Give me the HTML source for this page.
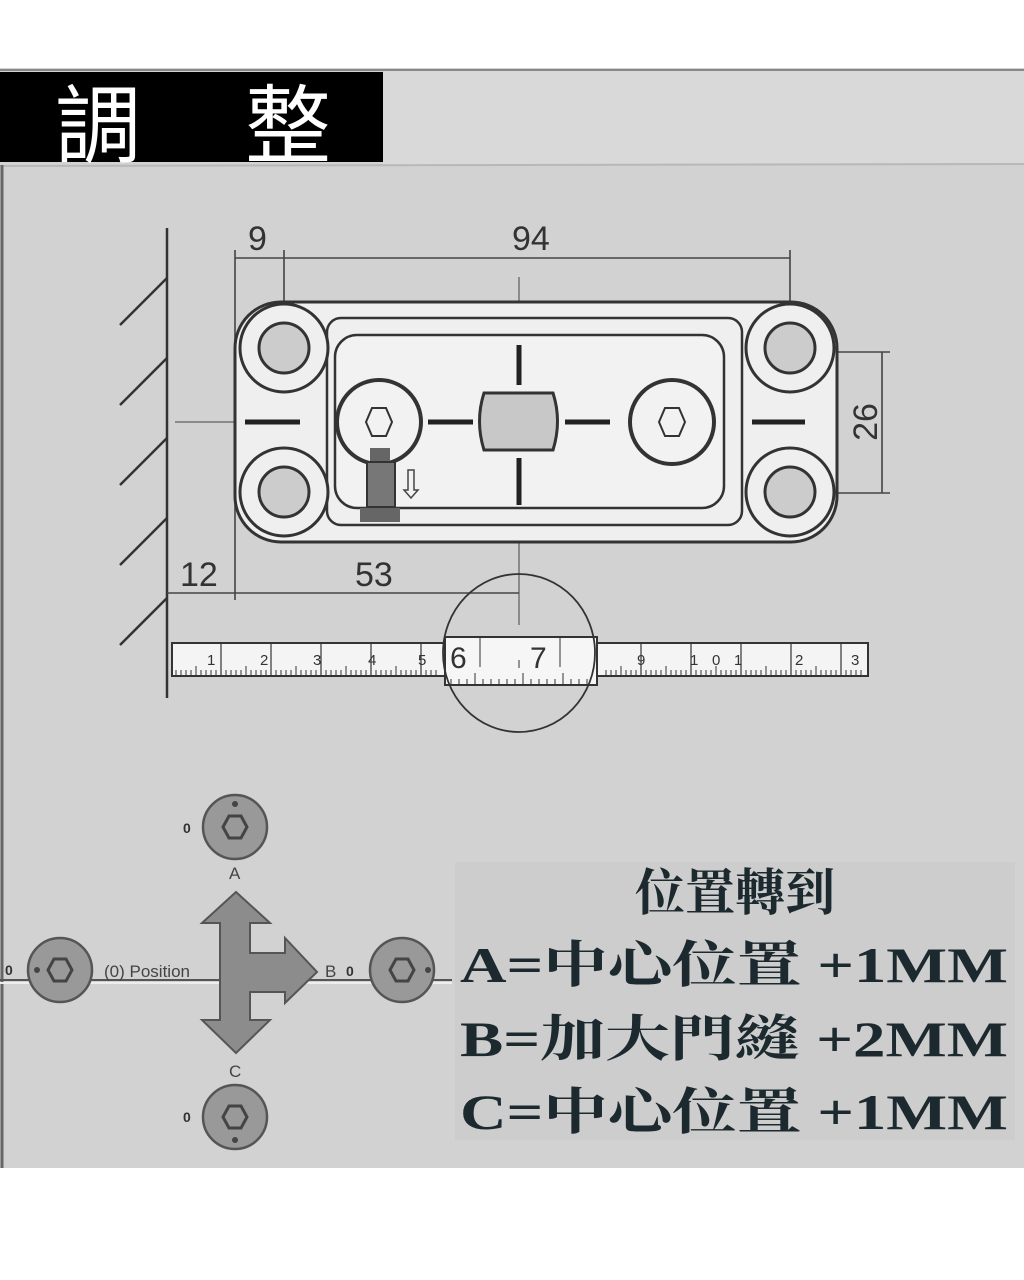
<!DOCTYPE html>
<html><head><meta charset="utf-8"><style>
html,body{margin:0;padding:0;background:#fff;}
svg{display:block;}
</style></head><body>
<svg width="1024" height="1280" viewBox="0 0 1024 1280" xmlns="http://www.w3.org/2000/svg" font-family="'Liberation Sans','Noto Sans CJK TC',sans-serif">
<rect x="0" y="0" width="1024" height="1280" fill="#fff"/>
<rect x="0" y="68" width="1024" height="1100" fill="#d2d2d2"/>
<rect x="383" y="70" width="641" height="95" fill="#d9d9d9"/>
<line x1="0" y1="166" x2="1024" y2="164" stroke="#b8b8b8" stroke-width="2"/>
<line x1="0" y1="70" x2="1024" y2="70" stroke="#888" stroke-width="2"/>
<line x1="2" y1="165" x2="2" y2="1168" stroke="#666" stroke-width="3"/>
<rect x="0" y="72" width="383" height="90" fill="#000"/>
<text x="55" y="156" font-size="86" fill="#fff">調</text>
<text x="245" y="156" font-size="86" fill="#fff">整</text>

<!-- wall -->
<g stroke="#333" stroke-width="2.5" fill="none">
<line x1="167" y1="228" x2="167" y2="698"/>
<line x1="120" y1="325" x2="167" y2="278"/>
<line x1="120" y1="405" x2="167" y2="358"/>
<line x1="120" y1="485" x2="167" y2="438"/>
<line x1="120" y1="565" x2="167" y2="518"/>
<line x1="120" y1="645" x2="167" y2="598"/>
</g>
<!-- dims -->
<g stroke="#444" stroke-width="1.6" fill="none">
<line x1="235" y1="250" x2="235" y2="600"/>
<line x1="284" y1="250" x2="284" y2="345"/>
<line x1="790" y1="250" x2="790" y2="345"/>
<line x1="235" y1="258" x2="790" y2="258"/>
<line x1="800" y1="352" x2="890" y2="352"/>
<line x1="800" y1="493" x2="890" y2="493"/>
<line x1="882" y1="352" x2="882" y2="493"/>
<line x1="167" y1="593" x2="519" y2="593"/>
<line x1="175" y1="422" x2="835" y2="422" stroke-width="1"/>
<line x1="519" y1="277" x2="519" y2="625" stroke-width="1"/>
</g>
<g font-size="34" fill="#333">
<text x="248" y="250">9</text>
<text x="512" y="250">94</text>
<text x="180" y="586">12</text>
<text x="355" y="586">53</text>
<text x="877" y="422" transform="rotate(-90 877 422)" text-anchor="middle">26</text>
</g>
<!-- plate -->
<rect x="235" y="302" width="602" height="240" rx="46" fill="#efefef" stroke="#333" stroke-width="3"/>
<rect x="327" y="318" width="415" height="207" rx="14" fill="none" stroke="#333" stroke-width="2.5"/>
<rect x="335" y="335" width="389" height="173" rx="22" fill="#f2f2f2" stroke="#333" stroke-width="2.5"/>
<g fill="#efefef" stroke="#333" stroke-width="3">
<circle cx="284" cy="348" r="44"/><circle cx="284" cy="492" r="44"/>
<circle cx="790" cy="348" r="44"/><circle cx="790" cy="492" r="44"/>
</g>
<g fill="#ccc" stroke="#333" stroke-width="3">
<circle cx="284" cy="348" r="25"/><circle cx="284" cy="492" r="25"/>
<circle cx="790" cy="348" r="25"/><circle cx="790" cy="492" r="25"/>
</g>
<g fill="none" stroke="#333" stroke-width="4">
<circle cx="379" cy="422" r="42"/><circle cx="672" cy="422" r="42"/>
</g>
<path d="M484 393 H553 Q562 421 553 450 H484 Q475 421 484 393Z" fill="#c8c8c8" stroke="#333" stroke-width="3"/>
<g stroke="#222" stroke-width="5">
<line x1="245" y1="422" x2="300" y2="422"/><line x1="428" y1="422" x2="473" y2="422"/>
<line x1="565" y1="422" x2="610" y2="422"/><line x1="752" y1="422" x2="805" y2="422"/>
<line x1="519" y1="345" x2="519" y2="385"/><line x1="519" y1="458" x2="519" y2="505"/>
</g>
<polygon points="372,408 386,408 392,422 386,436 372,436 366,422" fill="none" stroke="#333" stroke-width="2"/>
<polygon points="665,408 679,408 685,422 679,436 665,436 659,422" fill="none" stroke="#333" stroke-width="2"/>
<rect x="370" y="448" width="20" height="14" fill="#666"/>
<rect x="367" y="462" width="28" height="45" fill="#777" stroke="#333" stroke-width="2"/>
<rect x="360" y="508" width="40" height="14" fill="#666"/>
<path d="M408 470 h6 v20 h4 l-7 8 -7 -8 h4z" fill="none" stroke="#444" stroke-width="1.5"/>
<!-- ruler -->
<rect x="172" y="643" width="696" height="33" fill="#f4f4f4" stroke="#333" stroke-width="2"/>
<g stroke="#333" stroke-width="1">
<path d="M176 676v-6M181 676v-6M186 676v-6M191 676v-6M196 676v-10M201 676v-6M206 676v-6M211 676v-6M216 676v-6M226 676v-6M231 676v-6M236 676v-6M241 676v-6M246 676v-10M251 676v-6M256 676v-6M261 676v-6M266 676v-6M276 676v-6M281 676v-6M286 676v-6M291 676v-6M296 676v-10M301 676v-6M306 676v-6M311 676v-6M316 676v-6M326 676v-6M331 676v-6M336 676v-6M341 676v-6M346 676v-10M351 676v-6M356 676v-6M361 676v-6M366 676v-6M376 676v-6M381 676v-6M386 676v-6M391 676v-6M396 676v-10M401 676v-6M406 676v-6M411 676v-6M416 676v-6M426 676v-6M431 676v-6M436 676v-6M606 676v-6M611 676v-6M616 676v-6M621 676v-10M626 676v-6M631 676v-6M636 676v-6M646 676v-6M651 676v-6M656 676v-6M661 676v-6M666 676v-10M671 676v-6M676 676v-6M681 676v-6M686 676v-6M696 676v-6M701 676v-6M706 676v-6M711 676v-6M716 676v-10M721 676v-6M726 676v-6M731 676v-6M736 676v-6M746 676v-6M751 676v-6M756 676v-6M761 676v-6M766 676v-10M771 676v-6M776 676v-6M781 676v-6M786 676v-6M796 676v-6M801 676v-6M806 676v-6M811 676v-6M816 676v-10M821 676v-6M826 676v-6M831 676v-6M836 676v-6M846 676v-6M851 676v-6M856 676v-6M861 676v-6"/>
<path d="M221 643v33M271 643v33M321 643v33M371 643v33M421 643v33M641 643v33M691 643v33M741 643v33M791 643v33M841 643v33" stroke-width="1.2"/>
</g>
<g font-size="15" fill="#333">
<text x="207" y="665">1</text><text x="260" y="665">2</text><text x="313" y="665">3</text><text x="368" y="665">4</text><text x="418" y="665">5</text>
<text x="637" y="665">9</text><text x="690" y="665">1</text><text x="712" y="665">0</text><text x="734" y="665">1</text><text x="795" y="665">2</text><text x="851" y="665">3</text>
</g>
<rect x="445" y="637" width="152" height="48" fill="#f6f6f6" stroke="#333" stroke-width="2"/>
<g stroke="#333" stroke-width="1">
<path d="M451 685v-6M459 685v-6M467 685v-6M475 685v-12M483 685v-6M491 685v-6M499 685v-6M507 685v-6M515 685v-6M523 685v-12M531 685v-6M539 685v-6M547 685v-6M555 685v-6M563 685v-12M571 685v-6M579 685v-6M587 685v-6M519 660v8"/>
<path d="M480 637v30M560 637v30"/>
</g>
<g font-size="30" fill="#333"><text x="450" y="668">6</text><text x="530" y="668">7</text></g>
<ellipse cx="519" cy="653" rx="76" ry="79" fill="none" stroke="#333" stroke-width="1.8"/>

<!-- bottom adjustment -->
<line x1="0" y1="980" x2="452" y2="980" stroke="#555" stroke-width="2"/>
<line x1="0" y1="983" x2="452" y2="983" stroke="#eee" stroke-width="2"/>
<g fill="#999" stroke="#555" stroke-width="2.5">
<circle cx="235" cy="827" r="32"/><circle cx="235" cy="1117" r="32"/>
<circle cx="60" cy="970" r="32"/><circle cx="402" cy="970" r="32"/>
</g>
<g fill="none" stroke="#444" stroke-width="3">
<polygon points="229,816 241,816 247,827 241,838 229,838 223,827"/>
<polygon points="229,1106 241,1106 247,1117 241,1128 229,1128 223,1117"/>
<polygon points="54,959 66,959 72,970 66,981 54,981 48,970"/>
<polygon points="396,959 408,959 414,970 408,981 396,981 390,970"/>
</g>
<g fill="#444"><circle cx="235" cy="804" r="3"/><circle cx="235" cy="1140" r="3"/><circle cx="37" cy="970" r="3"/><circle cx="428" cy="970" r="3"/></g>
<g font-size="14" font-weight="bold" fill="#333">
<text x="183" y="833">0</text><text x="183" y="1122">0</text><text x="5" y="975">0</text><text x="346" y="976">0</text>
</g>
<g font-size="17" fill="#444">
<text x="229" y="879">A</text><text x="229" y="1077">C</text><text x="325" y="977">B</text>
<text x="104" y="977">(0)  Position</text>
</g>
<path d="M236 892 L270 923 H250 V953 H285 V938 L317 972 L285 1003 V992 H250 V1020 H270 L236 1053 L202 1020 H220 V923 H202 Z" fill="#8c8c8c" stroke="#555" stroke-width="2"/>

<!-- text block -->
<rect x="455" y="862" width="560" height="278" fill="#cdcdcd"/>
<g font-family="'Liberation Serif','Noto Serif CJK TC',serif" font-weight="bold" fill="#1c2a30" font-size="50">
<text x="735" y="910" text-anchor="middle">位置轉到</text>
<text x="460" y="982" textLength="548" lengthAdjust="spacingAndGlyphs">A=中心位置 +1MM</text>
<text x="460" y="1056" textLength="548" lengthAdjust="spacingAndGlyphs">B=加大門縫 +2MM</text>
<text x="460" y="1129" textLength="548" lengthAdjust="spacingAndGlyphs">C=中心位置 +1MM</text>
</g>
</svg>
</body></html>
